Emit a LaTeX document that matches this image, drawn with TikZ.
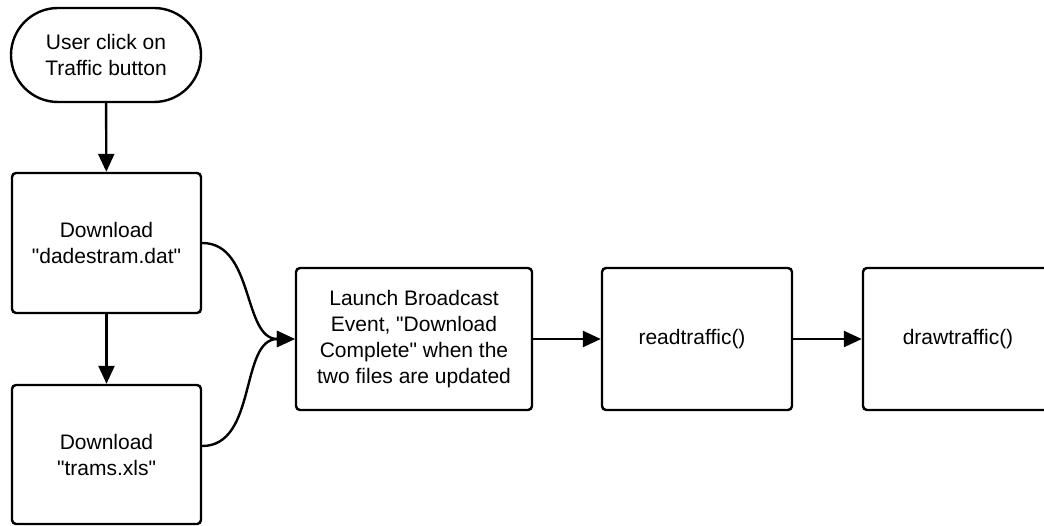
\documentclass[tikz,border=0pt]{standalone}
\usepackage{fontspec}
\setmainfont{Liberation Sans}
\usetikzlibrary{arrows.meta}
\begin{document}
\begin{tikzpicture}[x=1pt,y=1pt,
  box/.style={draw=black, line width=2.4pt, rounded corners=4pt, fill=white,
    align=center, font=\fontsize{21}{26}\selectfont, inner sep=0pt},
  flow/.style={line width=2.4pt, -{Triangle[length=18pt,width=16pt]}}]
\useasboundingbox (0,0) rectangle (1044,-526);
\begin{scope}
\clip (0,0) rectangle (1044,-526);
\node[box, rounded corners=47pt, minimum width=190pt, minimum height=94pt] (start) at (106,-55) {User click on\\Traffic button};
\node[box, minimum width=189pt, minimum height=140pt] (d1) at (106.5,-243) {Download\\\textquotedbl dadestram.dat\textquotedbl};
\node[box, minimum width=189pt, minimum height=139pt] (d2) at (106.5,-454.5) {Download\\\textquotedbl trams.xls\textquotedbl};
\node[box, minimum width=236pt, minimum height=142pt] (launch) at (414,-339) {Launch Broadcast\\Event, \textquotedbl Download\\Complete\textquotedbl{} when the\\two files are updated};
\node[box, minimum width=190pt, minimum height=142pt] (read) at (697,-339) {readtraffic()\hspace{10pt}};
\node[box, minimum width=190pt, minimum height=142pt] (draw) at (958,-339) {drawtraffic()};
\draw[flow] (start) -- (d1);
\draw[flow] (d1) -- (d2);
\draw[flow] (d1.east) to[out=0,in=180] (launch.west);
\draw[flow] (d2.east) ++(0,8.5) coordinate (d2e) (d2e) to[out=0,in=180] (launch.west);
\draw[flow] (launch) -- (read);
\draw[flow] (read) -- (draw);
\end{scope}
\end{tikzpicture}
\end{document}
